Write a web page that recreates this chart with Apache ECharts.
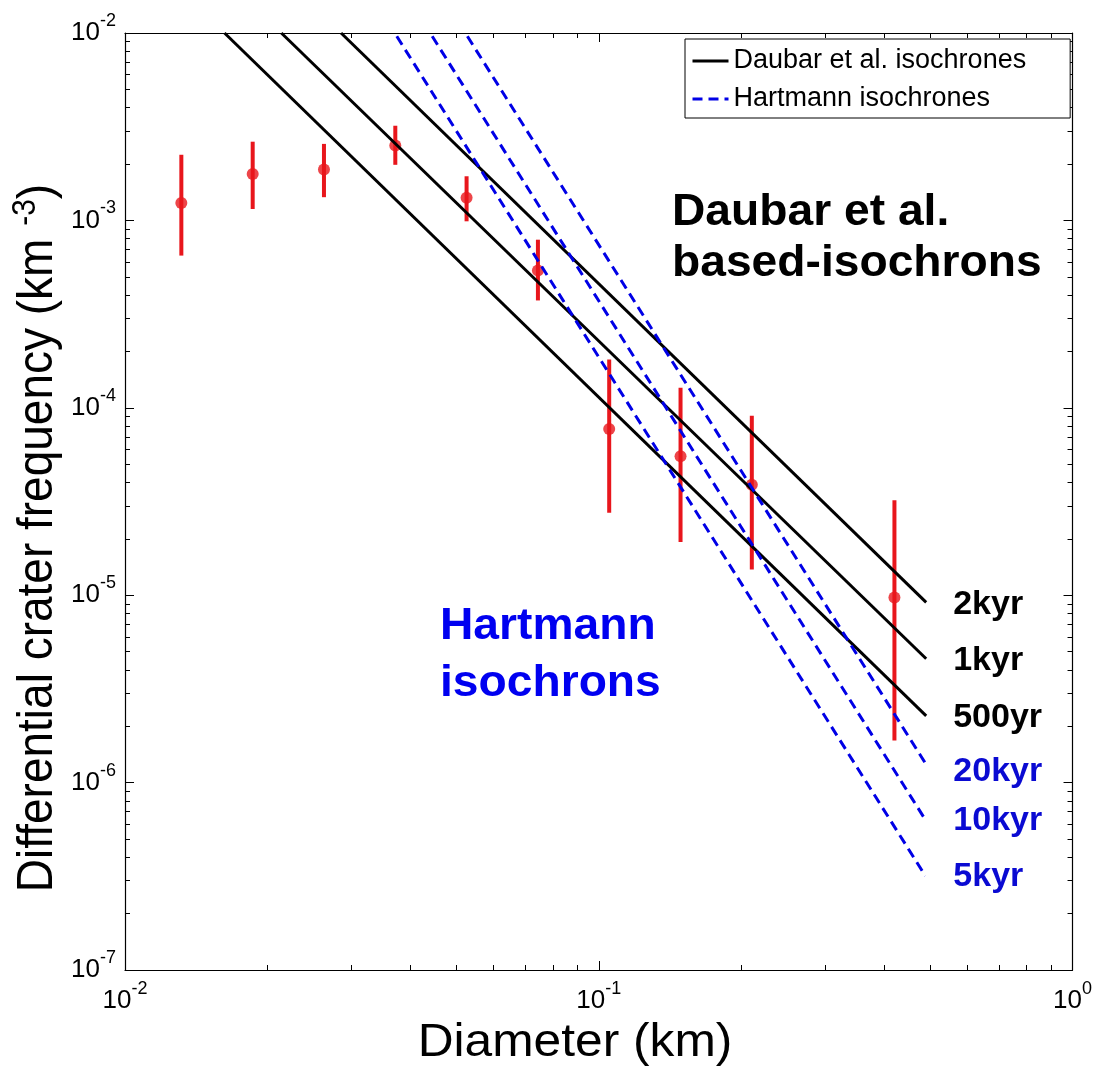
<!DOCTYPE html>
<html>
<head>
<meta charset="utf-8">
<script src="https://cdn.jsdelivr.net/npm/echarts@6/dist/echarts.min.js"></script>
<style>
  html, body { margin: 0; padding: 0; background: #fff; }
  #chart { width: 1095px; height: 1066px; }
</style>
</head>
<body>
<div id="chart"></div>
<script>
// Crater counts: bin diameter (km) and differential frequency (km^-3) with error range
const diameters = [0.01315, 0.0186, 0.0263, 0.0372, 0.0526, 0.0744, 0.1052, 0.1488, 0.2104, 0.4208];
const frequency = [1.24e-3, 1.77e-3, 1.87e-3, 2.51e-3, 1.32e-3, 5.41e-4, 7.71e-5, 5.51e-5, 3.89e-5, 9.73e-6];
const freqLow   = [6.49e-4, 1.15e-3, 1.33e-3, 1.98e-3, 9.89e-4, 3.74e-4, 2.75e-5, 1.92e-5, 1.37e-5, 1.68e-6];
const freqHigh  = [2.24e-3, 2.63e-3, 2.56e-3, 3.20e-3, 1.72e-3, 7.89e-4, 1.81e-4, 1.28e-4, 9.08e-5, 3.21e-5];

// Isochrons: end points [diameter, frequency] of each straight log-log segment
const daubarAges = ['2kyr', '1kyr', '500yr'];
const daubarLines = [
  [[0.02858, 1.0e-2], [0.491, 9.16e-6]],
  [[0.02138, 1.0e-2], [0.491, 4.58e-6]],
  [[0.01622, 1.0e-2], [0.491, 2.27e-6]]
];
const hartmannAges = ['20kyr', '10kyr', '5kyr'];
const hartmannLines = [
  [[0.05281, 9.6e-3], [0.489, 1.27e-6]],
  [[0.04451, 9.6e-3], [0.489, 6.34e-7]],
  [[0.03747, 9.6e-3], [0.489, 3.18e-7]]
];

// Axis ranges and legend entries
const xRange = [1e-2, 1];
const yRange = [1e-7, 1e-2];
const legendNames = ['Daubar et al. isochrones', 'Hartmann isochrones'];

const FONT = 'Liberation Sans, Arial, Helvetica, sans-serif';
const RED = '#e8161c';
const BLUE_LINE = '#0000e6';
const BLUE_TEXT = '#0000f0';

const powLabel = v => '{b|10}{s|' + Math.round(Math.log10(v)) + '}';
const powRich = {
  b: { fontSize: 26, lineHeight: 42, fontFamily: FONT, color: '#000' },
  s: { fontSize: 18, lineHeight: 18, fontFamily: FONT, color: '#000', verticalAlign: 'top' }
};

function logAxis(range, extra) {
  return Object.assign({
    type: 'log',
    logBase: 10,
    min: range[0],
    max: range[1],
    axisLine: { show: true, onZero: false, lineStyle: { color: '#000', width: 1.2 } },
    axisTick: { show: true, inside: true, length: 9, lineStyle: { color: '#000', width: 1 } },
    minorTick: { show: true, splitNumber: 9, length: 5, lineStyle: { color: '#000', width: 1 } },
    splitLine: { show: false },
    minorSplitLine: { show: false }
  }, extra);
}

const series = [];

// Vertical error bars
series.push({
  type: 'custom',
  name: 'error',
  silent: true,
  z: 1,
  data: diameters.map((d, i) => [d, freqLow[i], freqHigh[i]]),
  encode: { x: 0, y: [1, 2] },
  renderItem: (params, api) => {
    const lo = api.coord([api.value(0), api.value(1)]);
    const hi = api.coord([api.value(0), api.value(2)]);
    return {
      type: 'line',
      shape: { x1: lo[0], y1: lo[1], x2: hi[0], y2: hi[1] },
      style: { stroke: RED, lineWidth: 4 }
    };
  }
});

// Binned frequencies
series.push({
  type: 'scatter',
  name: 'counts',
  silent: true,
  z: 2,
  symbol: 'circle',
  symbolSize: 12,
  itemStyle: { color: RED },
  data: diameters.map((d, i) => [d, frequency[i]])
});

daubarLines.forEach((pts, i) => {
  series.push({
    type: 'line',
    name: legendNames[0],
    z: 3,
    symbol: 'none',
    data: pts,
    lineStyle: { color: '#000', width: 3 },
    itemStyle: { color: '#000' },
    endLabel: {
      show: true,
      formatter: () => daubarAges[i],
      distance: 27,
      offset: [0, 2],
      fontSize: 34,
      fontWeight: 'bold',
      fontFamily: FONT,
      color: '#000'
    }
  });
});

hartmannLines.forEach((pts, i) => {
  series.push({
    type: 'line',
    name: legendNames[1],
    z: 3,
    symbol: 'none',
    data: pts,
    lineStyle: { color: BLUE_LINE, width: 3, type: [10, 6] },
    itemStyle: { color: BLUE_LINE },
    endLabel: {
      show: true,
      formatter: () => hartmannAges[i],
      distance: 28,
      offset: i === 0 ? [0, 8] : [0, 1],
      fontSize: 34,
      fontWeight: 'bold',
      fontFamily: FONT,
      color: '#0a0ad2'
    }
  });
});

const chart = echarts.init(document.getElementById('chart'), null, { renderer: 'canvas' });
chart.setOption({
  animation: false,
  backgroundColor: '#fff',
  grid: { left: 125, right: 17, top: 33, bottom: 96, containLabel: false },
  xAxis: [
    logAxis(xRange, {
      position: 'bottom',
      axisLabel: { formatter: powLabel, rich: powRich, margin: 10 }
    }),
    logAxis(xRange, { position: 'top', axisLabel: { show: false } })
  ],
  yAxis: [
    logAxis(yRange, {
      position: 'left',
      axisLabel: { formatter: powLabel, rich: powRich, margin: 9 }
    }),
    logAxis(yRange, { position: 'right', axisLabel: { show: false } })
  ],
  legend: {
    data: legendNames,
    orient: 'vertical',
    left: 685,
    top: 39,
    selectedMode: false,
    backgroundColor: '#fff',
    borderColor: '#000',
    borderWidth: 1,
    borderRadius: 0,
    padding: [7, 44, 4, 6],
    itemGap: 8,
    itemWidth: 36,
    itemHeight: 14,
    itemStyle: { opacity: 0 },
    lineStyle: { width: 3 },
    textStyle: { fontSize: 27, lineHeight: 30, color: '#000', fontFamily: FONT }
  },
  graphic: [
    {
      type: 'text', x: 672, y: 212.5, scaleX: 1.05, z: 10,
      style: { text: 'Daubar et al.', fontSize: 44, fontWeight: 'bold', fontFamily: FONT, fill: '#000', align: 'left', verticalAlign: 'middle' }
    },
    {
      type: 'text', x: 672, y: 264, scaleX: 1.05, z: 10,
      style: { text: 'based-isochrons', fontSize: 44, fontWeight: 'bold', fontFamily: FONT, fill: '#000', align: 'left', verticalAlign: 'middle' }
    },
    {
      type: 'text', x: 440, y: 627, scaleX: 1.05, z: 10,
      style: { text: 'Hartmann', fontSize: 44, fontWeight: 'bold', fontFamily: FONT, fill: BLUE_TEXT, align: 'left', verticalAlign: 'middle' }
    },
    {
      type: 'text', x: 440, y: 684, scaleX: 1.05, z: 10,
      style: { text: 'isochrons', fontSize: 44, fontWeight: 'bold', fontFamily: FONT, fill: BLUE_TEXT, align: 'left', verticalAlign: 'middle' }
    },
    {
      type: 'text', x: 575, y: 1043, scaleX: 1.08, z: 10,
      style: { text: 'Diameter (km)', fontSize: 46, fontFamily: FONT, fill: '#000', align: 'center', verticalAlign: 'middle' }
    },
    {
      type: 'text', x: 38, y: 538, rotation: Math.PI / 2, scaleY: 1.08, z: 10,
      style: {
        text: '{a|Differential crater frequency (km }{s|-3}{a|)}',
        align: 'center', verticalAlign: 'middle', fill: '#000',
        rich: {
          a: { fontSize: 46, lineHeight: 52, fontFamily: FONT, fill: '#000' },
          s: { fontSize: 30, lineHeight: 30, fontFamily: FONT, fill: '#000', verticalAlign: 'top' }
        }
      }
    }
  ],
  series: series
});
</script>
</body>
</html>
